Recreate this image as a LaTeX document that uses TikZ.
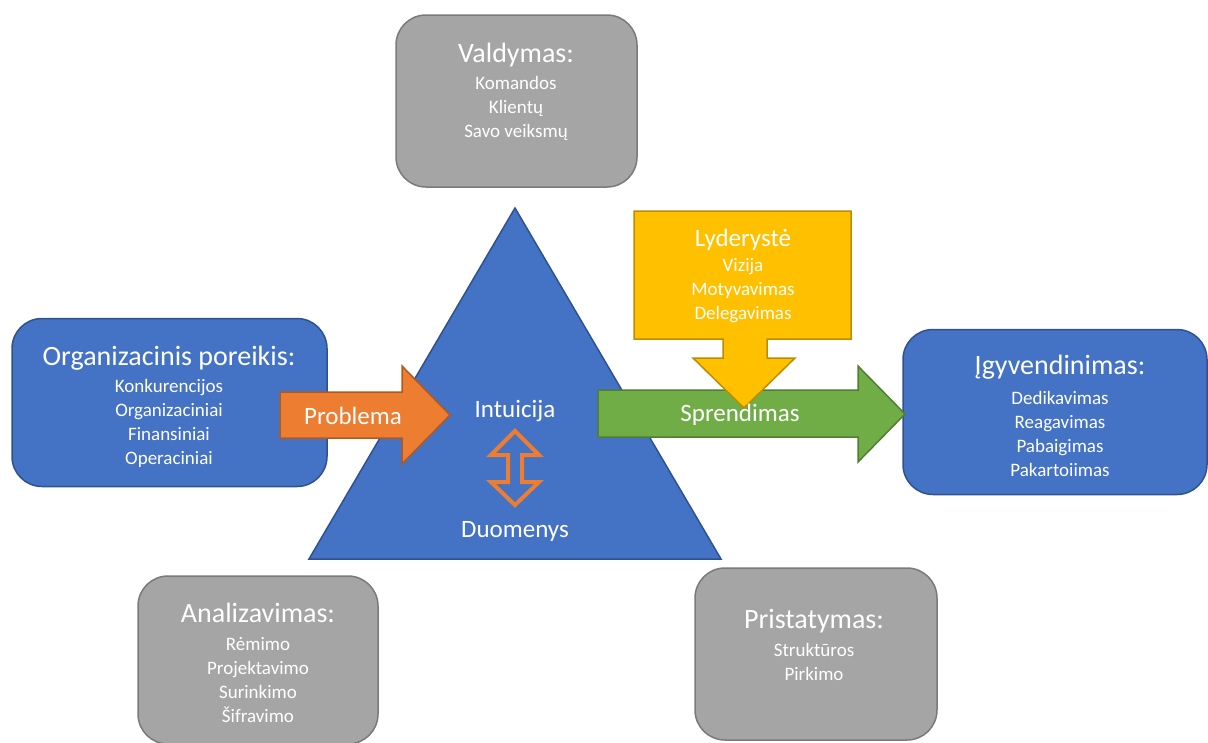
\documentclass[tikz,border=0pt]{standalone}
\usepackage{fontspec}
\setmainfont{Carlito}
\definecolor{bluefill}{HTML}{4472C4}
\definecolor{blueline}{HTML}{2F528F}
\definecolor{grayfill}{HTML}{A5A5A5}
\definecolor{grayline}{HTML}{7A7A7A}
\definecolor{orangefill}{HTML}{ED7D31}
\definecolor{orangeline}{HTML}{AE5A21}
\definecolor{yellowfill}{HTML}{FFC000}
\definecolor{yellowline}{HTML}{BC8C00}
\definecolor{greenfill}{HTML}{70AD47}
\definecolor{greenline}{HTML}{507E32}
\begin{document}
\begin{tikzpicture}[x=1pt,y=-1pt,
  bluebox/.style={draw=blueline,fill=bluefill,line width=1.5pt,rounded corners=30pt,inner sep=0pt},
  graybox/.style={draw=grayline,fill=grayfill,line width=1.5pt,rounded corners=30pt,inner sep=0pt},
  tribody/.style={draw=blueline,fill=bluefill,line width=1.5pt,line join=miter},
  orangearrow/.style={draw=orangeline,fill=orangefill,line width=1.5pt},
  greenarrow/.style={draw=greenline,fill=greenfill,line width=1.5pt},
  yellowcallout/.style={draw=yellowline,fill=yellowfill,line width=1.5pt},
  dblarrow/.style={draw=orangefill,line width=4pt,line join=miter},
  ttl/.style={text=white,font=\fontsize{28}{30}\selectfont,inner sep=0pt},
  midttl/.style={text=white,font=\fontsize{25}{28}\selectfont,inner sep=0pt},
  itm/.style={text=white,font=\fontsize{19}{24}\selectfont,align=center,inner sep=0pt},
]
\useasboundingbox (0,0) rectangle (1208,742);

% triangle
\path[tribody] (515,208) -- (721,559) -- (309,559) -- cycle;
\coordinate (tri) at (515,420);

% boxes
\node[graybox,minimum width=241pt,minimum height=172pt] (valdymas) at (516.5,101) {};
\node[bluebox,minimum width=315pt,minimum height=168pt] (org) at (169.5,402.5) {};
\node[bluebox,minimum width=304pt,minimum height=165pt] (igyv) at (1055,412) {};
\node[graybox,minimum width=240pt,minimum height=168pt] (analiz) at (258,660) {};
\node[graybox,minimum width=242pt,minimum height=172pt] (prist) at (816,654) {};

% Problema arrow
\path[orangearrow] (280,392) -- (402,392) -- (402,366) -- (450,415) -- (402,464) -- (402,438) -- (280,438) -- cycle;
% Sprendimas arrow
\path[greenarrow] (598,390) -- (858,390) -- (858,366) -- (905,414) -- (858,462) -- (858,437) -- (598,437) -- cycle;
% Lyderyste callout
\path[yellowcallout] (634,211) -- (851,211) -- (851,339) -- (767,339) -- (767,358) -- (795,358) -- (744,408) -- (693,358) -- (723,358) -- (723,339) -- (634,339) -- cycle;
% double arrow
\path[dblarrow] (515,431) -- (539,455) -- (522,455) -- (522,482) -- (539,482) -- (515,505) -- (491,482) -- (508,482) -- (508,455) -- (491,455) -- cycle;

% texts
\node[ttl] (valdymasT) at (516,55) {Valdymas:};
\node[itm] (valdymasI) at (516,108.5) {Komandos\\Klientų\\Savo veiksmų};

\node[ttl] (orgT) at (169,358) {Organizacinis poreikis:};
\node[itm] (orgI) at (169,423) {Konkurencijos\\Organizaciniai\\Finansiniai\\Operaciniai};

\node[midttl] (problema) at (353,416) {Problema};
\node[midttl] (intuicija) at (515,411) {Intuicija};
\node[midttl] (duomenys) at (515,531) {Duomenys};
\node[midttl] (sprendimas) at (740,415) {Sprendimas};

\node[midttl] (lydT) at (743,240) {Lyderystė};
\node[itm] (lydI) at (743,291) {Vizija\\Motyvavimas\\Delegavimas};

\node[ttl] (igyvT) at (1060,367) {Įgyvendinimas:};
\node[itm] (igyvI) at (1060,433.5) {Dedikavimas\\Reagavimas\\Pabaigimas\\Pakartoiimas};

\node[ttl] (analizT) at (258,613) {Analizavimas:};
\node[itm] (analizI) at (258,679.5) {Rėmimo\\Projektavimo\\Surinkimo\\Šifravimo};

\node[ttl] (pristT) at (814,621) {Pristatymas:};
\node[itm] (pristI) at (814,662) {Struktūros\\Pirkimo};
\end{tikzpicture}
\end{document}
